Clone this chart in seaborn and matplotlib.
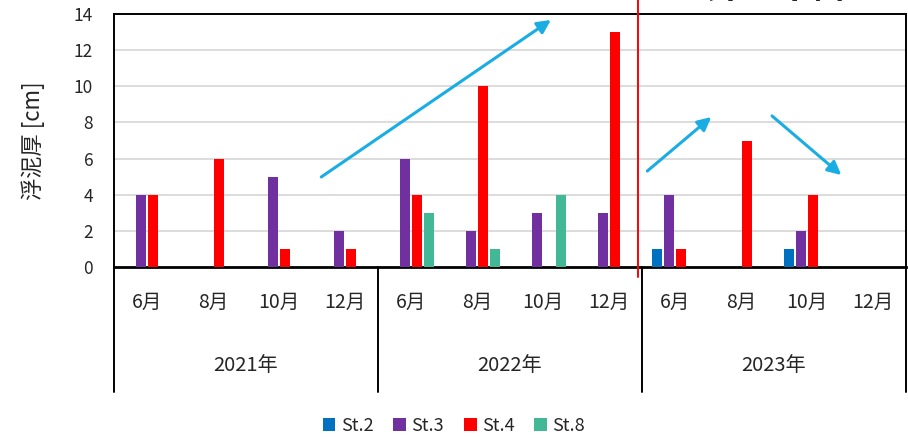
import numpy as np
import pandas as pd
import matplotlib
matplotlib.use("Agg")
import matplotlib.pyplot as plt
import matplotlib.transforms as mtransforms
from matplotlib.patches import Patch
import seaborn as sns

# ---- data -------------------------------------------------------------
years = ["2021年", "2022年", "2023年"]
months = ["6月", "8月", "10月", "12月"]
stations = ["St.2", "St.3", "St.4", "St.8"]
nan = np.nan
st2 = [nan, nan, nan, nan, nan, nan, nan, nan, 1, nan, 1, nan]
st3 = [4, nan, 5, 2, 6, 2, 3, 3, 4, nan, 2, nan]
st4 = [4, 6, 1, 1, 4, 10, nan, 13, 1, 7, 4, nan]
st8 = [nan, nan, nan, nan, 3, 1, 4, nan, nan, nan, nan, nan]
colors = ["#0070C0", "#7030A0", "#FF0000", "#43B896"]
yticks = [0, 2, 4, 6, 8, 10, 12, 14]
title_text = "上昇→下降"

# ---- long table -------------------------------------------------------
periods = [f"{y}{m}" for y in years for m in months]
rows = []
for st, vals in zip(stations, [st2, st3, st4, st8]):
    for p, v in zip(periods, vals):
        if not np.isnan(v):
            rows.append({"period": p, "station": st, "thickness": v})
df = pd.DataFrame(rows)

sns.set_theme(style="white")
plt.rcParams["font.family"] = ["Noto Sans CJK JP", "DejaVu Sans"]

fig = plt.figure(figsize=(9.08, 4.38), dpi=100)
ax = fig.add_axes([114 / 908, (438 - 267) / 438, 792 / 908, 253 / 438])

sns.barplot(data=df, x="period", y="thickness", hue="station",
            order=periods, hue_order=stations, palette=colors,
            saturation=1, width=0.73, gap=0.22, errorbar=None,
            legend=False, ax=ax, edgecolor="none", zorder=3)

ax.set_xlim(-0.5, len(periods) - 0.5)
ax.set_ylim(0, 14)
ax.set_yticks(yticks)
ax.set_yticklabels([str(t) for t in yticks], fontsize=12.5)
ax.tick_params(axis="y", length=0, pad=15)
ax.set_xticks([])
ax.set_xlabel("")
ax.set_ylabel("浮泥厚 [cm]", fontsize=16)
ax.yaxis.set_label_coords(-0.087, 0.5)
for t in yticks[1:-1]:
    ax.axhline(t, color="#D9D9D9", lw=1.3, zorder=1)
for s in ax.spines.values():
    s.set_color("black")
    s.set_linewidth(1.4)
ax.spines["bottom"].set_linewidth(2)

# multi-level category labels below the axis
trans = mtransforms.blended_transform_factory(ax.transData, ax.transAxes)
for i, p in enumerate(periods):
    ax.text(i, -0.138, months[i % 4], transform=trans, ha="center",
            va="center", fontsize=14, clip_on=False)
for j, y in enumerate(years):
    ax.text(j * 4 + 1.5, -0.391, y, transform=trans, ha="center",
            va="center", fontsize=14.5, clip_on=False)
for b in [-0.5, 3.5, 7.5, 11.5]:
    ax.plot([b, b], [0, -0.494], transform=trans, color="black",
            lw=1.4, clip_on=False)

# divider between 2022 and 2023
ax.plot([7.44, 7.44], [1.06, -0.04], transform=trans, color="#FF0000",
        lw=1.4, clip_on=False, zorder=5)

# trend arrows
arrow_kw = dict(arrowstyle="-|>", color="#1AADE4", lw=2.2,
                mutation_scale=20, shrinkA=0, shrinkB=0)
for start, end in [((2.64, 4.98), (6.12, 13.67)),
                   ((7.58, 5.31), (8.55, 8.30)),
                   ((9.47, 8.36), (10.52, 5.09))]:
    ax.annotate("", xy=end, xytext=start, arrowprops=arrow_kw,
                annotation_clip=False, zorder=6)

fig.text(760 / 908, 1 + 2.5 / 438, title_text, ha="center", va="baseline",
         fontsize=26, fontweight="bold")

handles = [Patch(facecolor=c, edgecolor="none", label=s)
           for s, c in zip(stations, colors)]
fig.legend(handles=handles, loc="center", bbox_to_anchor=(0.5, 0.028),
           ncol=4, frameon=False, fontsize=13, handlelength=0.7,
           handleheight=0.7, handletextpad=0.3, columnspacing=1.1)

fig.savefig("out.png", dpi=100)
